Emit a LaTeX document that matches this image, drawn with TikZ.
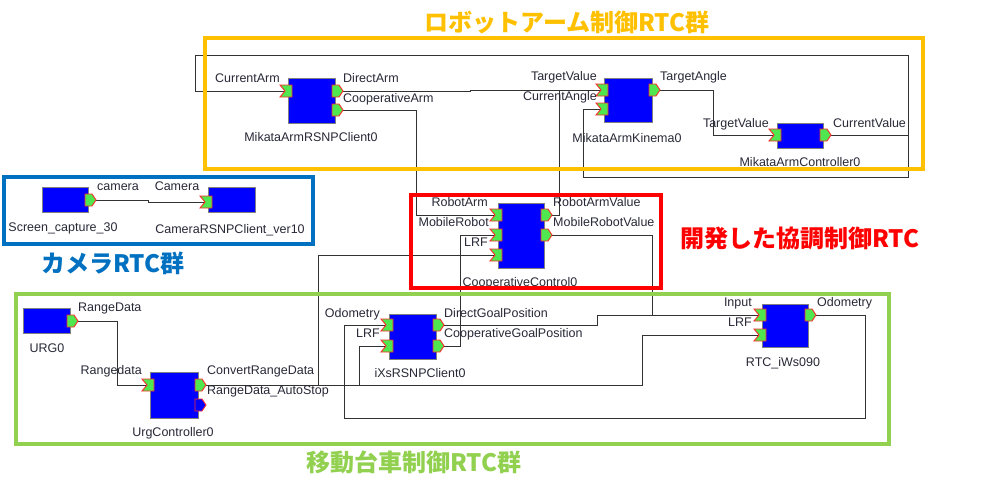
\documentclass[tikz,border=0pt]{standalone}
\usepackage{fontspec}
\setmainfont{Liberation Sans}
\newfontfamily\cjk{Noto Sans CJK JP}
\definecolor{grpO}{RGB}{255,192,0}
\definecolor{grpB}{RGB}{0,112,192}
\definecolor{grpR}{RGB}{255,0,0}
\definecolor{grpG}{RGB}{146,208,80}
\definecolor{pgreen}{RGB}{80,230,80}
\definecolor{pred}{RGB}{255,40,40}
\definecolor{txt}{RGB}{40,40,55}
\definecolor{wire}{RGB}{50,50,50}
\pgfdeclarelayer{wires}
\pgfsetlayers{wires,main}
\tikzset{
 comp/.style={draw=gray, fill=blue, line width=0.8pt, inner sep=0pt, anchor=north west},
 portst/.style={draw=pred, line width=0.9pt, line join=miter},
 lbl/.style={text=txt, font=\fontsize{12.5}{14}\selectfont, inner sep=0pt},
 wirest/.style={draw=wire, line width=1pt},
 frame/.style={line width=4pt},
 grptitle/.style={font=\cjk\bfseries\fontsize{24}{28}\selectfont, inner sep=0pt}
}
\newcommand\inport[4][pgreen]{%
 \draw[portst, fill=#1] (#3-8,#4-6) -- (#3+4,#4-6) -- (#3+4,#4+6) -- (#3-8,#4+6) -- (#3-3,#4) -- cycle;
 \coordinate (#2) at (#3-4,#4);}
\newcommand\outport[4][pgreen]{%
 \draw[portst, fill=#1] (#3-3,#4-6) -- (#3+4,#4-6) -- (#3+8,#4) -- (#3+4,#4+6) -- (#3-3,#4+6) -- cycle;
 \coordinate (#2) at (#3+8,#4);}
\begin{document}
\begin{tikzpicture}[x=1pt,y=-1pt]
\useasboundingbox (0,0) rectangle (992,493);

% components
\node[comp, minimum width=47pt, minimum height=45pt] (arm) at (288,78) {};
\node[comp, minimum width=48pt, minimum height=44pt] (kin) at (604,78) {};
\node[comp, minimum width=46pt, minimum height=25pt] (ctl) at (777,123) {};
\node[comp, minimum width=46pt, minimum height=25pt] (scr) at (42,187) {};
\node[comp, minimum width=47pt, minimum height=25pt] (cam) at (208,187) {};
\node[comp, minimum width=46pt, minimum height=65pt] (co) at (498,203) {};
\node[comp, minimum width=47pt, minimum height=25pt] (urg) at (23,308) {};
\node[comp, minimum width=48pt, minimum height=46pt] (uc) at (150,372) {};
\node[comp, minimum width=47pt, minimum height=45pt] (ix) at (389,314) {};
\node[comp, minimum width=46pt, minimum height=43pt] (iw) at (762,304) {};

% ports
\inport{armCA}{288}{91}
\outport{armDA}{335}{91}
\outport{armCoA}{335}{110}
\inport{kinTV}{604}{90}
\inport{kinCA}{604}{109}
\outport{kinTA}{652}{90}
\inport{ctlTV}{777}{135}
\outport{ctlCV}{823}{135}
\outport{scrOut}{88}{200}
\inport{camIn}{208}{202}
\inport{coRA}{498}{215}
\inport{coMR}{498}{235}
\inport{coLRF}{498}{255}
\outport{coRAV}{544}{215}
\outport{coMRV}{544}{235}
\outport{urgOut}{70}{321}
\inport{ucIn}{150}{385}
\outport{ucCRD}{198}{385}
\outport[blue]{ucRDA}{198}{405}
\inport{ixOd}{389}{325}
\inport{ixLRF}{389}{346}
\outport{ixDGP}{436}{325}
\outport{ixCGP}{436}{346}
\inport{iwIn}{762}{315}
\inport{iwLRF}{762}{335}
\outport{iwOd}{808}{315}

% wires
\begin{pgfonlayer}{wires}
\draw[wirest] (armDA) -- (470,91) -- (470,90) -- (kinTV);
\draw[wirest] (ctlCV) -- (908,135) -- (908,55) -- (195,55) -- (195,91) -- (armCA);
\draw[wirest] (ctlCV) -- (908,135) -- (908,177) -- (583,177) -- (583,109) -- (kinCA);
\draw[wirest] (kinTA) -- (713,90) -- (713,135) -- (ctlTV);
\draw[wirest] (armCoA) -- (416,110) -- (416,215) -- (coRA);
\draw[wirest] (coRAV) -- (559,215) -- (559,90) -- (kinTV);
\draw[wirest] (scrOut) -- (148,200) -- (148,202) -- (camIn);
\draw[wirest] (ixCGP) -- (460,346) -- (460,235) -- (coMR);
\draw[wirest] (ucCRD) -- (318,385) -- (318,255) -- (coLRF);
\draw[wirest] (ucCRD) -- (359,385) -- (359,346) -- (ixLRF);
\draw[wirest] (ucCRD) -- (642,385) -- (642,335) -- (iwLRF);
\draw[wirest] (coMRV) -- (652,235) -- (652,315) -- (iwIn);
\draw[wirest] (ixDGP) -- (597,325) -- (597,315) -- (iwIn);
\draw[wirest] (iwOd) -- (865,315) -- (865,418) -- (344,418) -- (344,325) -- (ixOd);
\draw[wirest] (urgOut) -- (117,321) -- (117,385) -- (ucIn);
\end{pgfonlayer}

% labels
\node[lbl, anchor=base east] (t1) at (280,82) {CurrentArm};
\node[lbl, anchor=base west] (t2) at (343,82) {DirectArm};
\node[lbl, anchor=base west] (t3) at (343,102) {CooperativeArm};
\node[lbl, anchor=base] (t4) at (311,141) {MikataArmRSNPClient0};
\node[lbl, anchor=base east] (t5) at (597,80) {TargetValue};
\node[lbl, anchor=base east] (t6) at (597,100) {CurrentAngle};
\node[lbl, anchor=base west] (t7) at (660,80) {TargetAngle};
\node[lbl, anchor=base] (t8) at (627,142) {MikataArmKinema0};
\node[lbl, anchor=base east] (t9) at (769,127) {TargetValue};
\node[lbl, anchor=base west] (t10) at (833,127) {CurrentValue};
\node[lbl, anchor=base] (t11) at (800,166) {MikataArmController0};
\node[lbl, anchor=base] (t12) at (118,190) {camera};
\node[lbl, anchor=base] (t13) at (177,190) {Camera};
\node[lbl, anchor=base] (t14) at (63,231) {Screen\_capture\_30};
\node[lbl, anchor=base] (t15) at (230,233) {CameraRSNPClient\_ver10};
\node[lbl, anchor=base east] (t16) at (488,206) {RobotArm};
\node[lbl, anchor=base east] (t17) at (489,226) {MobileRobot};
\node[lbl, anchor=base east] (t18) at (488,246) {LRF};
\node[lbl, anchor=base west] (t19) at (553,206) {RobotArmValue};
\node[lbl, anchor=base west] (t20) at (553,226) {MobileRobotValue};
\node[lbl, anchor=base] (t21) at (520,286) {CooperativeControl0};
\node[lbl, anchor=base west] (t22) at (78,311) {RangeData};
\node[lbl, anchor=base] (t23) at (47,352) {URG0};
\node[lbl, anchor=base east] (t24) at (142,374) {Rangedata};
\node[lbl, anchor=base west] (t25) at (207,374) {ConvertRangeData};
\node[lbl, anchor=base west] (t26) at (207,394) {RangeData\_AutoStop};
\node[lbl, anchor=base] (t27) at (173,436) {UrgController0};
\node[lbl, anchor=base east] (t28) at (380,317) {Odometry};
\node[lbl, anchor=base east] (t29) at (380,337) {LRF};
\node[lbl, anchor=base west] (t30) at (444,317) {DirectGoalPosition};
\node[lbl, anchor=base west] (t31) at (444,337) {CooperativeGoalPosition};
\node[lbl, anchor=base] (t32) at (420,377) {iXsRSNPClient0};
\node[lbl, anchor=base east] (t33) at (752,306) {Input};
\node[lbl, anchor=base east] (t34) at (752,326) {LRF};
\node[lbl, anchor=base west] (t35) at (817,306) {Odometry};
\node[lbl, anchor=base] (t36) at (783,366) {RTC\_iWs090};

% group frames
\draw[frame, grpO] (205,38) rectangle (923,169);
\draw[frame, grpB] (4,177) rectangle (313,244);
\draw[frame, grpR, line width=3.5pt] (411,195) rectangle (661,288);
\draw[frame, grpG] (16,294) rectangle (889,444);

% titles
\node[grptitle, text=grpO] (gO) at (567,22) {ロボットアーム制御RTC群};
\node[grptitle, text=grpB] (gB) at (113,263) {カメラRTC群};
\node[grptitle, text=grpR] (gR) at (800,238) {開発した協調制御RTC};
\node[grptitle, text=grpG] (gG) at (414,462) {移動台車制御RTC群};
\end{tikzpicture}
\end{document}
